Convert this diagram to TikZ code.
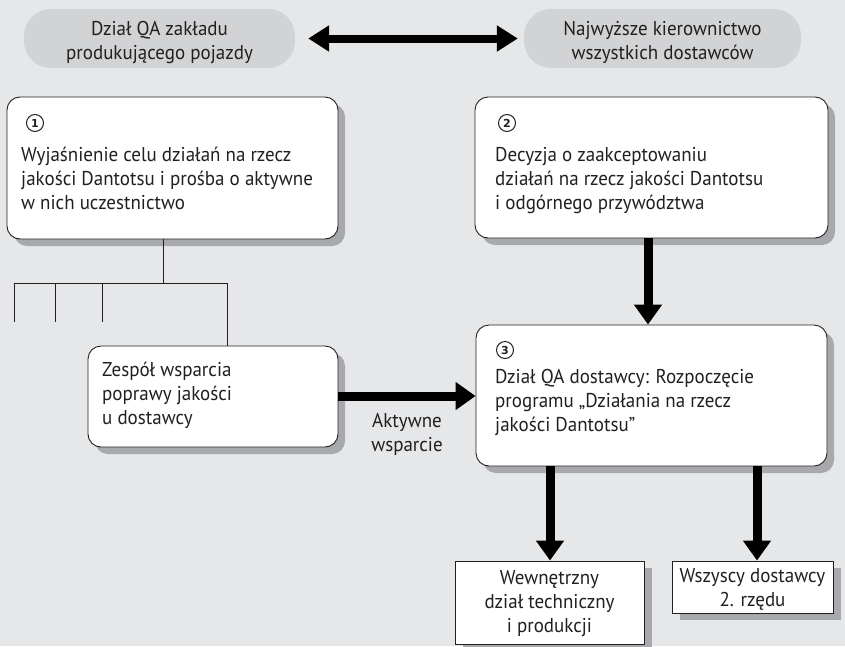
\documentclass[tikz,border=0pt]{standalone}
\usepackage{fontspec}
\setmainfont[FakeStretch=0.95]{PT Sans}
\newfontfamily\numfont{DejaVu Sans}
\usetikzlibrary{arrows.meta,shadows,calc}

\definecolor{bggray}{HTML}{E6E7E8}
\definecolor{pillgray}{HTML}{D1D3D4}
\definecolor{shadowgray}{HTML}{A7A9AC}
\definecolor{ink}{HTML}{231F20}

\tikzset{
  pill/.style={fill=pillgray, draw=none, rounded corners=27pt, inner sep=0pt},
  roundbox/.style={draw=ink, line width=0.9pt, fill=white, rounded corners=13pt, inner sep=0pt,
    drop shadow={shadow xshift=7pt, shadow yshift=-7pt, fill=shadowgray, opacity=1}},
  plainbox/.style={draw=ink, line width=0.9pt, fill=white, inner sep=0pt,
    drop shadow={shadow xshift=8pt, shadow yshift=-7pt, fill=shadowgray, opacity=1}},
  txt/.style={text=ink, font=\fontsize{20}{24}\selectfont, inner sep=0pt},
  bodytext/.style={txt, align=left, anchor=north west},
  ctrtext/.style={txt, align=center},
  num/.style={circle, draw=ink, line width=1pt, minimum size=17pt, inner sep=0pt,
    text=ink, font=\numfont\bfseries\fontsize{11}{11}\selectfont},
  thin/.style={draw=ink, line width=1pt},
  bigarrow/.style={draw=black, line width=9pt, -{Triangle[length=20pt,width=27pt]}},
  duoarrow/.style={draw=black, line width=8pt, {Triangle[length=21pt,width=25pt]}-{Triangle[length=21pt,width=25pt]}},
}

\begin{document}
\begin{tikzpicture}[x=1pt,y=-1pt]
  % canvas
  \fill[bggray] (0,0) rectangle (845,646);
  \useasboundingbox (0,0) rectangle (845,646);

  % top partners
  \node[pill, minimum width=271pt, minimum height=59pt] (plant) at (159.5,38.5) {};
  \node[ctrtext] (planttxt) at ($(plant.center)+(0,4)$) {Dział QA zakładu\\produkującego pojazdy};
  \node[pill, minimum width=277pt, minimum height=59pt] (mgmt) at (662.5,38.5) {};
  \node[ctrtext] (mgmttxt) at ($(mgmt.center)+(0,4)$) {Najwyższe kierownictwo\\wszystkich dostawców};
  \draw[duoarrow] ($(plant.east)+(13,0)$) -- ($(mgmt.west)+(-6,0)$);

  % step boxes
  \node[roundbox, minimum width=331pt, minimum height=142pt] (s1) at (172.5,168) {};
  \node[num] (n1) at (35,123) {1};
  \node[bodytext] (t1) at (21,147) {Wyjaśnienie celu działań na rzecz\\jakości Dantotsu i prośba o aktywne\\w nich uczestnictwo};

  \node[roundbox, minimum width=353pt, minimum height=141pt] (s2) at (651.5,167.5) {};
  \node[num] (n2) at (507,123) {2};
  \node[bodytext] (t2) at (495,147) {Decyzja o zaakceptowaniu\\działań na rzecz jakości Dantotsu\\i odgórnego przywództwa};

  \node[roundbox, minimum width=351pt, minimum height=141pt] (s3) at (651.5,395.5) {};
  \node[num] (n3) at (505,350) {3};
  \node[bodytext] (t3) at (495,369) {Dział QA dostawcy: Rozpoczęcie\\programu „Działania na rzecz\\jakości Dantotsu”};

  \node[roundbox, minimum width=250pt, minimum height=101pt] (team) at (213,396.5) {};
  \node[bodytext] (t4) at (102,362) {Zespół wsparcia\\poprawy jakości\\u dostawcy};

  \node[plainbox, minimum width=189pt, minimum height=83pt] (inner) at (549.5,602.5) {};
  \node[ctrtext] (t5) at ($(inner.center)+(0,1)$) {Wewnętrzny\\dział techniczny\\i produkcji};

  \node[plainbox, minimum width=161pt, minimum height=52pt] (tier2) at (752.5,587) {};
  \node[ctrtext] (t6) at ($(tier2.center)+(0,2)$) {Wszyscy dostawcy\\2. rzędu};

  % branch lines under step 1
  \coordinate (trunk) at ($(s1.south)+(-9.5,45)$);
  \coordinate (bl) at (14,283);
  \coordinate (br) at (227,283);
  \draw[thin] ($(s1.south)+(-9.5,0)$) -- (trunk);
  \draw[thin] (bl) -- (br) -- (team.north -| br);
  \draw[thin] (bl) -- ++(0,39);
  \draw[thin] (55,283) -- ++(0,39);
  \draw[thin] (102,283) -- ++(0,39);

  % thick flow arrows
  \draw[bigarrow] (s2.south -| 648,0) -- (s3.north -| 648,0);
  \draw[bigarrow] (team.east |- 0,396) -- (s3.west |- 0,396);
  \node[ctrtext] (lbl) at (407,434) {Aktywne\\wsparcie};
  \draw[bigarrow] (s3.south -| 550,0) -- (inner.north -| 550,0);
  \draw[bigarrow] (s3.south -| 757,0) -- (tier2.north -| 757,0);
\end{tikzpicture}
\end{document}
